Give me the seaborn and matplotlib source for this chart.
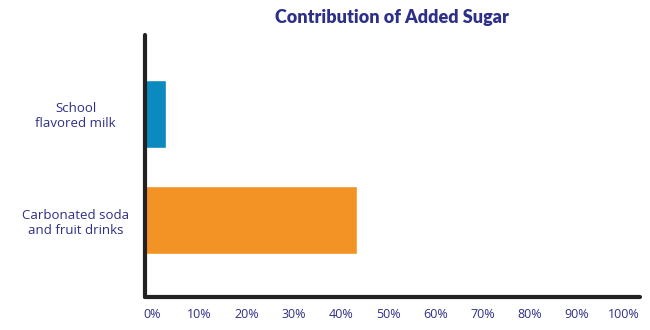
import matplotlib
matplotlib.use("Agg")
import matplotlib.pyplot as plt
import matplotlib.transforms as mtransforms
import seaborn as sns
import pandas as pd

categories = ["School\nflavored milk", "Carbonated soda\nand fruit drinks"]
values = [4.5, 45]
colors = ["#0a8abf", "#f39325"]
xticks = [0, 10, 20, 30, 40, 50, 60, 70, 80, 90, 100]
xticklabels = [f"{t}%" for t in xticks]
title = "Contribution of Added Sugar"

sns.set_theme(style="white")
plt.rcParams["font.family"] = ["Open Sans", "DejaVu Sans"]
navy = "#2e2f86"

df = pd.DataFrame({"cat": categories, "val": values})
fig = plt.figure(figsize=(6.5, 3.3), dpi=100)
ax = fig.add_axes([145/650, 1-297/330, (640-145)/650, (297-35)/330])
sns.barplot(data=df, y="cat", x="val", hue="cat", palette=colors, legend=False,
            orient="h", width=0.64, ax=ax, saturation=1)
ax.set_xlim(0, 105)
ax.set_ylim(1.726, -0.745)
ax.set_xlabel("")
ax.set_ylabel("")
ax.tick_params(axis="both", length=0)
ax.tick_params(axis="y", pad=50)
ax.tick_params(axis="x", pad=8)
ax.set_xticks(xticks)
ax.set_xticklabels(xticklabels, color=navy, fontsize=9)
offset = mtransforms.ScaledTranslation(7.5/100, 0, fig.dpi_scale_trans)
for lbl in ax.get_xticklabels():
    lbl.set_transform(lbl.get_transform() + offset)
for lbl in ax.get_yticklabels():
    lbl.set_color(navy)
    lbl.set_fontsize(9.5)
    lbl.set_horizontalalignment("center")
    lbl.set_multialignment("center")
for s in ["top", "right"]:
    ax.spines[s].set_visible(False)
for s in ["left", "bottom"]:
    ax.spines[s].set_color("#222222")
    ax.spines[s].set_linewidth(3)
    ax.spines[s].set_capstyle("round")
fig.text(392/650, 1-17/330, title, ha="center", va="center", color=navy,
         fontsize=13, fontweight="heavy", family=["Lato", "DejaVu Sans"])
fig.savefig("out.png", dpi=100)
